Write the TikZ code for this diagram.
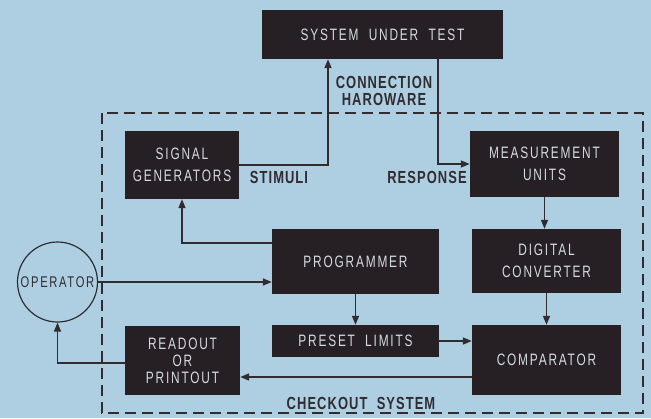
\documentclass[tikz,border=0pt]{standalone}
\usepackage{fontspec}
\newfontfamily\boxfont[LetterSpace=11,FakeStretch=0.72]{Liberation Sans}
\newfontfamily\labfont[LetterSpace=6,FakeStretch=0.74]{Liberation Sans}
\definecolor{ckbg}{RGB}{174,207,226}
\definecolor{ckbox}{RGB}{38,31,35}
\definecolor{cktext}{RGB}{212,220,224}
\definecolor{ckline}{RGB}{48,44,48}
\usetikzlibrary{arrows.meta,positioning}

\begin{document}
\begin{tikzpicture}[x=1pt,y=-1pt,
  unit/.style={draw=none,fill=ckbox,text=cktext,inner sep=0pt,align=center,
    font=\boxfont\fontsize{16.5}{22}\selectfont},
  lbl/.style={text=ckline,inner sep=0pt,align=center,
    font=\labfont\bfseries\fontsize{17.5}{17}\selectfont},
  conn/.style={ckline,line width=1.6pt,-{Triangle[length=9pt,width=7pt]}}]
  \fill[ckbg] (0,0) rectangle (651,418);
  \useasboundingbox (0,0) rectangle (651,418);
  % checkout system frame
  \draw[ckline,line width=2pt,dash pattern=on 11pt off 6pt] (102,113) rectangle (643,413);
  \node[lbl] (chk) at (361,403) {CHECKOUT\ \ SYSTEM};
  \node[unit,minimum width=241pt,minimum height=49pt] (sut) at (382.5,34.5) {SYSTEM\ \ UNDER\ \ TEST};
  \node[unit,minimum width=114pt,minimum height=68pt] (sig) at (182,165) {SIGNAL\\GENERATORS};
  \node[unit,minimum width=149pt,minimum height=66pt] (meas) at (544.5,164) {MEASUREMENT\\UNITS};
  \node[unit,minimum width=167pt,minimum height=65pt] (prog) at (355.5,261.5) {PROGRAMMER};
  \node[unit,minimum width=149pt,minimum height=64pt] (dig) at (546.5,261) {DIGITAL\\CONVERTER};
  \node[unit,minimum width=167pt,minimum height=32pt] (lim) at (355.5,341) {PRESET\ \ LIMITS};
  \node[unit,minimum width=149pt,minimum height=70pt] (comp) at (546.5,360) {COMPARATOR};
  \node[unit,minimum width=115pt,minimum height=69pt,font=\boxfont\fontsize{16.5}{17}\selectfont] (rdo) at (182.5,360.5) {READOUT\\OR\\PRINTOUT};
  \node[draw=ckline,line width=1.2pt,circle,minimum size=80pt,inner sep=0pt,text=ckline,
    font=\boxfont\fontsize{15.5}{16}\selectfont] (op) at (57.5,282) {OPERATOR};
  \node[lbl] (hw) at (384,91) {CONNECTION\\HAROWARE};
  \node[lbl] (stim) at (279,177) {STIMULI};
  \node[lbl] (resp) at (427,177) {RESPONSE};
  % signal flow
  \draw[conn] (sig.east) -| ([xshift=-54.5pt]sut.south);
  \draw[conn] ([xshift=55.5pt]sut.south) |- (meas.west);
  \draw[conn] (meas.south) -- (meas.south |- dig.north);
  \draw[conn] (dig.south) -- (comp.north);
  \draw[conn] ([yshift=18.5pt]prog.west) -| (sig.south);
  \draw[conn] (op.east) -- (op.east -| prog.west);
  \draw[conn] (prog.south) -- (lim.north);
  \draw[conn] (lim.east) -- (lim.east -| comp.west);
  \draw[conn] ([yshift=-17pt]comp.west) -- ([yshift=-17pt]comp.west -| rdo.east);
  \draw[conn] ([yshift=-2.5pt]rdo.west) -| (op.south);
\end{tikzpicture}
\end{document}
